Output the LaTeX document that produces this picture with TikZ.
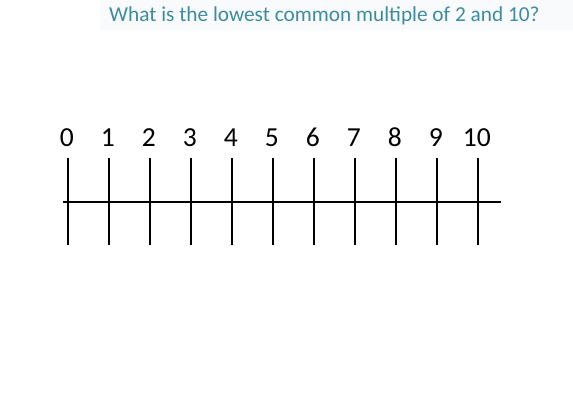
\documentclass[tikz,border=0pt]{standalone}
\usepackage{fontspec}
\setmainfont{Carlito}
\definecolor{titleteal}{RGB}{62,140,156}
\definecolor{bandgray}{RGB}{248,250,252}
\begin{document}
\begin{tikzpicture}[x=1pt,y=-1pt,
  tick/.style={line width=2.2pt,black},
  axis/.style={line width=2.4pt,black},
  lab/.style={font=\fontsize{27.5}{27.5}\selectfont,inner sep=0pt,anchor=base},
  title/.style={font=\fontsize{21.3}{24}\selectfont,text=titleteal,inner sep=0pt,anchor=base west}]
\useasboundingbox[fill=white] (0,0) rectangle (573,407);
\fill[bandgray] (100,0) rectangle (573,30);
\node[title] (title) at (109,21) {What is the lowest common multiple of 2 and 10?};
\coordinate (L) at (63,202);
\coordinate (R) at (501,202);
\draw[axis] (L) -- (R);
\foreach \i in {0,...,10}{
  \coordinate (t\i a) at (68.3+41*\i,158);
  \coordinate (t\i b) at (68.3+41*\i,245);
  \draw[tick] (t\i a) -- (t\i b);
  \node[lab] (n\i) at (66.8+41*\i,146) {\i};
}
\end{tikzpicture}
\end{document}
